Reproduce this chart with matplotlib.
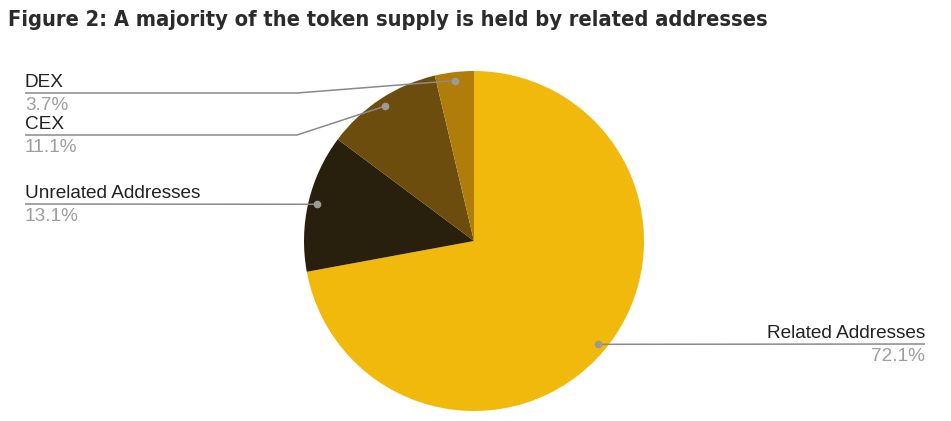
import numpy as np
import matplotlib
matplotlib.use("Agg")
import matplotlib.pyplot as plt

labels = ["Related Addresses", "Unrelated Addresses", "CEX", "DEX"]
values = [72.1, 13.1, 11.1, 3.7]
pct_labels = ["72.1%", "13.1%", "11.1%", "3.7%"]
colors = ["#F0B90B", "#281F0C", "#6C4D0E", "#B07D0A"]

W, H = 951, 421
fig = plt.figure(figsize=(W / 100, H / 100), dpi=100)

cx, cy, R = 474, 241, 170
ax = fig.add_axes([(cx - R) / W, (H - cy - R) / H, 2 * R / W, 2 * R / H])
wedges, _ = ax.pie(values, colors=colors, startangle=90, counterclock=False,
                   radius=1, wedgeprops=dict(linewidth=0))
ax.set_xlim(-1, 1)
ax.set_ylim(-1, 1)
ax.set_aspect("equal")
ax.axis("off")

ov = fig.add_axes([0, 0, 1, 1], zorder=5)
ov.set_xlim(0, W)
ov.set_ylim(H, 0)
ov.axis("off")

line_c = "#8a8a8a"
layout = {
    "Related Addresses": ("right", 344, None),
    "Unrelated Addresses": ("left", 204, None),
    "CEX": ("left", 135, 297),
    "DEX": ("left", 93, 297),
}
for w, lab, pct in zip(wedges, labels, pct_labels):
    th = np.deg2rad((w.theta1 + w.theta2) / 2)
    dx = cx + 0.95 * R * np.cos(th)
    dy = cy - 0.95 * R * np.sin(th)
    side, ly, elbow = layout[lab]
    if side == "right":
        xs, ys = [dx, 925], [dy, ly]
        tx, ha = 925, "right"
    else:
        if elbow is None:
            xs, ys = [25, dx], [ly, dy]
        else:
            xs, ys = [25, elbow, dx], [ly, ly, dy]
        tx, ha = 25, "left"
    ov.plot(xs, ys, color=line_c, lw=1.1, solid_capstyle="butt")
    ov.plot([dx], [dy], "o", color="#9a9a9a", ms=4.5)
    ov.text(tx, ly - 6, lab, ha=ha, va="baseline", fontsize=13.7,
            family="Liberation Sans", color="#222222")
    ov.text(tx, ly + 17, pct, ha=ha, va="baseline", fontsize=13.7,
            family="Liberation Sans", color="#9e9e9e")

fig.text(8 / W, 1 - 26 / H, "Figure 2: A majority of the token supply is held by related addresses",
         ha="left", va="baseline", fontsize=15.7, fontweight="bold",
         family="DejaVu Sans", fontstretch="condensed", color="#2b2b2b")

fig.savefig("out.png", dpi=100, facecolor="white")
